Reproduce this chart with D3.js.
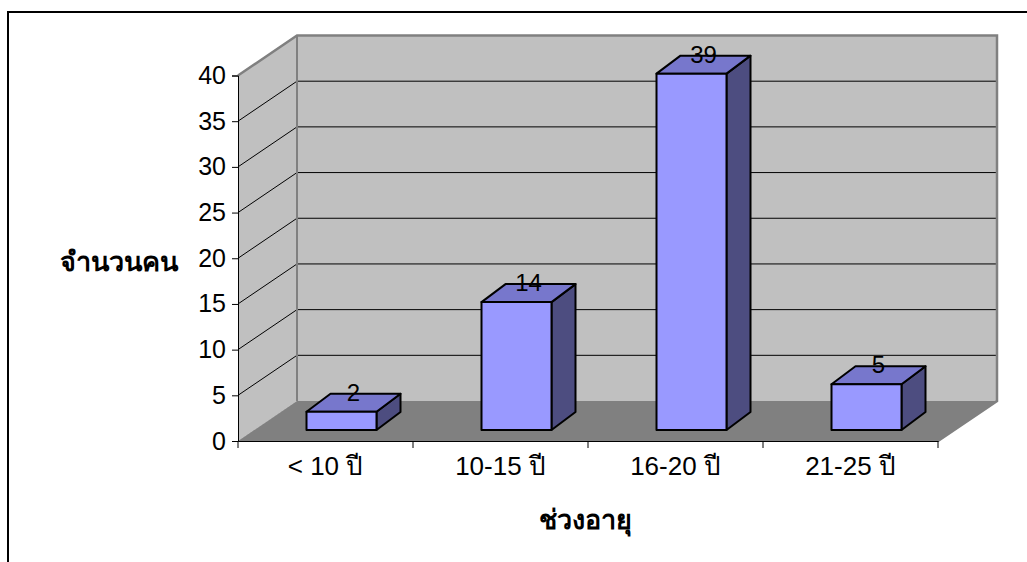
<!DOCTYPE html>
<html><head><meta charset="utf-8">
<script src="https://cdn.jsdelivr.net/npm/d3@7"></script>
<style>html,body{margin:0;padding:0;background:#fff;}svg{display:block;}</style>
</head><body>
<svg id="c" width="1027" height="562"></svg>
<script>
const categories = ["< 10 ปี", "10-15 ปี", "16-20 ปี", "21-25 ปี"];
const values = [2, 14, 39, 5];
const yTicks = [0, 5, 10, 15, 20, 25, 30, 35, 40];
const yTitle = "จำนวนคน";
const xTitle = "ช่วงอายุ";

const svg = d3.select("#c");
const font = "'Liberation Sans', Arial, 'Noto Sans', sans-serif";

// frame
svg.append("rect").attr("x", 8).attr("y", 12).attr("width", 1200).attr("height", 800)
  .attr("fill", "none").attr("stroke", "#000").attr("stroke-width", 2);

const x = d3.scaleBand().domain(categories).range([238, 938]).padding(0);
const y = d3.scaleLinear().domain([0, 40]).range([441, 75.5]);
const DX = 59, DY = -40; // wall depth
const BX = 24, BY = -18; // bar depth
const FX = 16, FY = -11; // bar front offset into depth
const barW = 70;

const g = svg.append("g");
const x0 = x.range()[0], x1 = x.range()[1];

// floor
g.append("path")
  .attr("d", `M${x0},${y(0)} L${x0+DX},${y(0)+DY} L${x1+DX},${y(0)+DY} L${x1},${y(0)} Z`)
  .attr("fill", "#808080").attr("stroke", "#808080").attr("stroke-width", 1);
// back wall
g.append("rect").attr("x", x0 + DX).attr("y", y(40) + DY)
  .attr("width", x1 - x0).attr("height", y(0) - y(40))
  .attr("fill", "#c0c0c0");
// side wall
g.append("path")
  .attr("d", `M${x0},${y(0)} L${x0},${y(40)} L${x0+DX},${y(40)+DY} L${x0+DX},${y(0)+DY} Z`)
  .attr("fill", "#c0c0c0");
// gridlines
yTicks.forEach(v => {
  if (v === 0) return;
  g.append("path")
    .attr("d", `M${x0},${y(v)} L${x0+DX},${y(v)+DY} L${x1+DX},${y(v)+DY}`)
    .attr("fill", "none").attr("stroke", "#000").attr("stroke-width", 1);
});
// wall edges
g.append("path")
  .attr("d", `M${x0},${y(40)} L${x0+DX},${y(40)+DY} L${x1+DX},${y(40)+DY} L${x1+DX},${y(0)+DY} L${x1},${y(0)}`)
  .attr("fill", "none").attr("stroke", "#808080").attr("stroke-width", 2.5);
g.append("line").attr("x1", x0 + DX).attr("x2", x0 + DX)
  .attr("y1", y(40) + DY).attr("y2", y(0) + DY)
  .attr("stroke", "#808080").attr("stroke-width", 2);

// bars
values.forEach((v, i) => {
  const cx = x(categories[i]) + x.bandwidth() / 2 + FX;
  const l = cx - barW / 2, r = cx + barW / 2;
  const b = y(0) + FY, t = y(v) + FY;
  const bg = g.append("g").attr("stroke", "#000").attr("stroke-width", 2).attr("stroke-linejoin", "round");
  bg.append("path").attr("d", `M${r},${b} L${r+BX},${b+BY} L${r+BX},${t+BY} L${r},${t} Z`).attr("fill", "#4d4d80");
  bg.append("path").attr("d", `M${l},${t} L${l+BX},${t+BY} L${r+BX},${t+BY} L${r},${t} Z`).attr("fill", "#7777cc");
  bg.append("rect").attr("x", l).attr("y", t).attr("width", barW).attr("height", b - t).attr("fill", "#9999ff");
  g.append("text").attr("x", cx + BX / 2).attr("y", t + BY + 7)
    .attr("text-anchor", "middle").attr("font-family", font).attr("font-size", 24)
    .attr("fill", "#000").text(v);
});

// y axis
const yAxis = g.append("g").attr("transform", `translate(${x0},0)`)
  .call(d3.axisLeft(y).tickValues(yTicks).tickSize(6).tickPadding(6));
yAxis.select(".domain").attr("stroke", "#000").attr("stroke-width", 1);
yAxis.selectAll(".tick line").attr("stroke", "#000");
yAxis.selectAll("text").attr("font-family", font).attr("font-size", 25).attr("fill", "#000");

// x axis
const xAxis = g.append("g").attr("transform", `translate(0,${y(0)})`)
  .call(d3.axisBottom(x).tickSize(0).tickPadding(16));
xAxis.select(".domain").attr("stroke", "#000").attr("stroke-width", 1);
xAxis.selectAll("text").attr("font-family", font).attr("font-size", 26).attr("fill", "#000");
const bounds = [x0].concat(categories.map(c => x(c) + x.bandwidth()));
g.selectAll(".xt").data(bounds).enter().append("line")
  .attr("x1", d => d).attr("x2", d => d).attr("y1", y(0)).attr("y2", y(0) + 7)
  .attr("stroke", "#000");

// titles
svg.append("text").attr("x", 119).attr("y", 271).attr("text-anchor", "middle")
  .attr("font-family", font).attr("font-size", 27).attr("font-weight", "bold").text(yTitle);
svg.append("text").attr("x", 585).attr("y", 529).attr("text-anchor", "middle")
  .attr("font-family", font).attr("font-size", 27).attr("font-weight", "bold").text(xTitle);
</script>
</body></html>
